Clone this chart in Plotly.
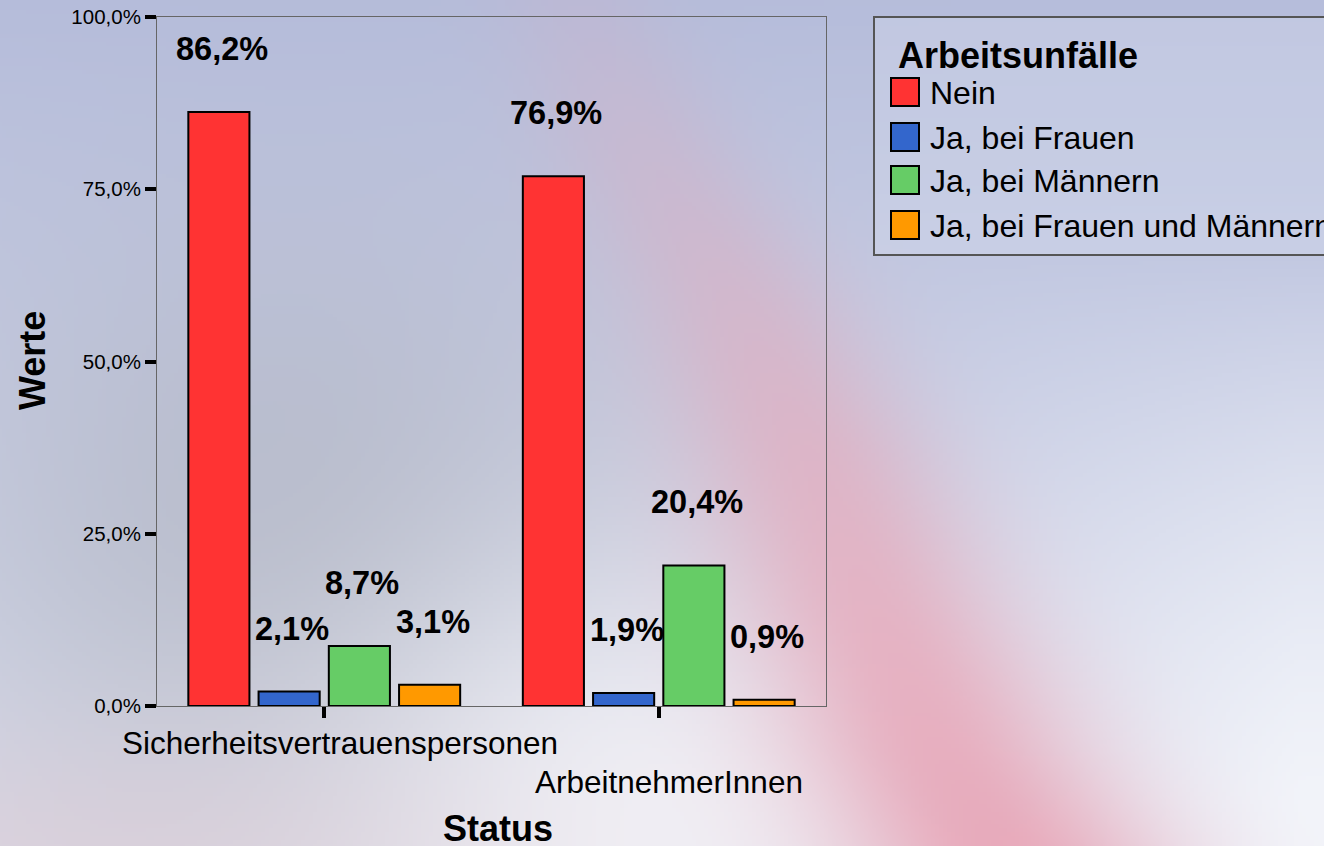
import base64
import struct
import zlib

import numpy as np
import plotly.graph_objects as go

# ---------------- data ----------------
categories = ["Sicherheitsvertrauenspersonen", "ArbeitnehmerInnen"]
series_names = ["Nein", "Ja, bei Frauen", "Ja, bei Männern", "Ja, bei Frauen und Männern"]
nein = [86.2, 76.9]
ja_frauen = [2.1, 1.9]
ja_maenner = [8.7, 20.4]
ja_beide = [3.1, 0.9]
series_values = [nein, ja_frauen, ja_maenner, ja_beide]
y_ticks = [0, 25, 50, 75, 100]
y_tick_labels = ["0,0%", "25,0%", "50,0%", "75,0%", "100,0%"]
legend_title = "Arbeitsunfälle"
x_title = "Status"
y_title = "Werte"

colors = ["#ff3333", "#3366cc", "#66cc66", "#ff9900"]
FONT = "Arial, 'Liberation Sans', sans-serif"

# ---------------- geometry ----------------
W, H = 1324, 846
L, R, T, B = 157, 826, 17, 706
PW, PH = R - L, B - T


def px(x):
    return (x - L) / PW


def py(y):
    return (B - y) / PH


# ---------------- background image (soft gradient) ----------------
def make_background():
    s = 4
    w, h = W // s + 1, H // s + 1
    X = (np.arange(w) + 0.5) * s
    Y = (np.arange(h) + 0.5) * s
    XX, YY = np.meshgrid(X, Y)
    t = YY / H
    top = np.array([182, 189, 219], float)
    bot = np.array([222, 226, 240], float)
    img = top[None, None, :] * (1 - t[..., None]) + bot[None, None, :] * t[..., None]

    def blend(img, color, alpha):
        c = np.array(color, float)[None, None, :]
        a = np.clip(alpha, 0, 1)[..., None]
        return img * (1 - a) + c * a

    # right side lightening toward bottom
    a = np.clip((XX - 900) / 400, 0, 1) * np.clip((YY - 250) / 550, 0, 1) * 0.85
    img = blend(img, [246, 248, 252], a)
    # grey shadow on left / behind bars
    a = 0.5 * np.exp(-(((XX - 300) / 260) ** 2 + ((YY - 560) / 230) ** 2) / 2)
    img = blend(img, [160, 163, 174], a)
    # white glow inside ring
    a = 0.85 * np.exp(-(((XX - 660) / 240) ** 2 + ((YY - 830) / 190) ** 2) / 2)
    img = blend(img, [246, 246, 250], a)
    # pink swoosh
    xc = np.interp(YY, [0, 150, 300, 450, 600, 750, 846], [580, 650, 740, 810, 870, 940, 1000])
    sig = np.interp(YY, [0, 400, 846], [60, 85, 115])
    inten = np.interp(YY, [0, 200, 450, 846], [0.12, 0.3, 0.58, 0.88])
    a = inten * np.exp(-(((XX - xc) / sig) ** 2) / 2)
    img = blend(img, [232, 162, 180], a)
    # pinkish bottom-left
    a = 0.4 * np.exp(-(((XX - 80) / 320) ** 2 + ((YY - 860) / 90) ** 2) / 2)
    img = blend(img, [222, 196, 204], a)

    arr = np.clip(img, 0, 255).astype(np.uint8)
    hh, ww, _ = arr.shape
    raw = b"".join(b"\x00" + arr[r].tobytes() for r in range(hh))

    def chunk(tag, data):
        return (struct.pack(">I", len(data)) + tag + data
                + struct.pack(">I", zlib.crc32(tag + data) & 0xFFFFFFFF))

    png = (b"\x89PNG\r\n\x1a\n"
           + chunk(b"IHDR", struct.pack(">IIBBBBB", ww, hh, 8, 2, 0, 0, 0))
           + chunk(b"IDAT", zlib.compress(raw, 9))
           + chunk(b"IEND", b""))
    return "data:image/png;base64," + base64.b64encode(png).decode()


bg = make_background()

# ---------------- figure ----------------
fig = go.Figure()
for name, vals, col in zip(series_names, series_values, colors):
    fig.add_trace(go.Bar(
        x=categories, y=vals, name=name,
        marker=dict(color=col, line=dict(color="black", width=2)),
        showlegend=False, hoverinfo="x+y+name",
    ))

bargap = 0.16
nser = len(series_names)
slot = (1 - bargap) / nser

annotations = []
# value labels
for i, vals in enumerate(series_values):
    for ci, v in enumerate(vals):
        xpos = ci - (1 - bargap) / 2 + slot * (i + 0.5)
        annotations.append(dict(
            x=xpos, y=v, xref="x", yref="y",
            text=f"<b>{v:.1f}%</b>".replace(".", ","),
            showarrow=False, xanchor="center", yanchor="middle",
            yshift=63, xshift=3,
            font=dict(family=FONT, size=32.5, color="black"),
        ))

# category labels (staggered)
cat_pos = [(340, 743), (669, 782)]
for cat, (cx, cy) in zip(categories, cat_pos):
    annotations.append(dict(
        x=px(cx), y=py(cy), xref="paper", yref="paper", text=cat,
        showarrow=False, xanchor="center", yanchor="middle",
        font=dict(family=FONT, size=31.5, color="black"),
    ))

# axis titles
annotations.append(dict(
    x=px(498), y=py(828), xref="paper", yref="paper", text=f"<b>{x_title}</b>",
    showarrow=False, xanchor="center", yanchor="middle",
    font=dict(family=FONT, size=36, color="black"),
))
annotations.append(dict(
    x=px(32), y=py(361), xref="paper", yref="paper", text=f"<b>{y_title}</b>",
    showarrow=False, xanchor="center", yanchor="middle", textangle=-90,
    font=dict(family=FONT, size=36, color="black"),
))

# manual legend
shapes = [dict(
    type="rect", xref="paper", yref="paper",
    x0=px(874), x1=px(1340), y0=py(255), y1=py(17),
    line=dict(color="#555555", width=2), fillcolor="rgba(215,220,238,0.35)",
    layer="below",
)]
annotations.append(dict(
    x=px(896), y=py(56), xref="paper", yref="paper", text=f"<b>{legend_title}</b>",
    showarrow=False, xanchor="left", yanchor="middle",
    font=dict(family=FONT, size=36, color="black"),
))
item_y = [92, 137, 180, 225]
for name, col, iy in zip(series_names, colors, item_y):
    shapes.append(dict(
        type="rect", xref="paper", yref="paper",
        x0=px(891), x1=px(919), y0=py(iy + 14), y1=py(iy - 14),
        line=dict(color="black", width=2), fillcolor=col,
    ))
    annotations.append(dict(
        x=px(928), y=py(iy + 1), xref="paper", yref="paper", text=name,
        showarrow=False, xanchor="left", yanchor="middle",
        font=dict(family=FONT, size=32, color="black"),
    ))

fig.update_layout(
    width=W, height=H,
    margin=dict(l=L, r=W - R, t=T, b=H - B, pad=0, autoexpand=False),
    barmode="group", bargap=bargap, bargroupgap=0.13,
    paper_bgcolor="#c8cde3", plot_bgcolor="rgba(0,0,0,0)",
    separators=",.",
    font=dict(family=FONT, color="black"),
    showlegend=False,
    annotations=annotations,
    shapes=shapes,
    images=[dict(
        source=bg, xref="paper", yref="paper",
        x=-L / PW, y=1 + T / PH, sizex=W / PW, sizey=H / PH,
        xanchor="left", yanchor="top", sizing="stretch", layer="below",
    )],
)
fig.update_yaxes(
    range=[0, 100], tickvals=y_ticks, ticktext=y_tick_labels, automargin=False,
    ticks="outside", ticklen=11, tickwidth=4, tickcolor="black",
    showgrid=False, zeroline=False,
    showline=True, linecolor="#666666", linewidth=1, mirror=True,
    tickfont=dict(family=FONT, size=20.5, color="black"),
)
fig.update_xaxes(
    type="category", range=[-0.5, 1.5], automargin=False,
    ticks="outside", ticklen=11, tickwidth=4, tickcolor="black",
    showticklabels=False, showgrid=False, zeroline=False,
    showline=True, linecolor="#666666", linewidth=1, mirror=True,
)

post = ("document.body.style.margin='0';document.body.style.padding='0';"
        "document.body.style.overflow='hidden';"
        "var d=document.getElementById('{plot_id}');"
        "d.style.position='absolute';d.style.left='0px';d.style.top='0px';")
fig.write_html("out.html", post_script=post, config={"displayModeBar": False})
